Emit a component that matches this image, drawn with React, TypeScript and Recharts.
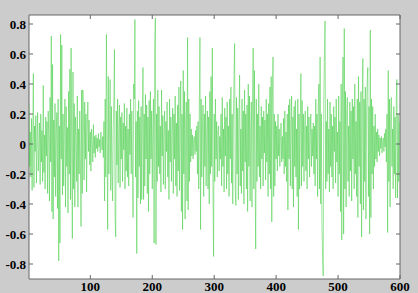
import React from 'react';
import { LineChart, Line, XAxis, YAxis, CartesianGrid, ReferenceArea } from 'recharts';

// signal samples (x = 1..600)
const signal: number[] = [
  0.27, -0.15, 0.08, -0.22, 0.17, -0.31, 0.05, 0.47, -0.29, 0.12,
  -0.05, 0.19, -0.26, 0.03, 0.21, -0.18, -0.02, 0.14, -0.27, 0.2,
  -0.12, 0.09, -0.25, 0.39, -0.19, 0.06, -0.3, 0.18, -0.08, 0.15,
  -0.33, 0.22, 0.04, -0.38, 0.31, -0.12, 0.72, -0.45, 0.53, -0.5,
  0.16, -0.22, 0.27, -0.35, 0.08, 0.21, -0.43, 0.3, -0.78, 0.12,
  -0.66, 0.73, -0.1, 0.66, -0.34, 0.2, -0.28, 0.09, 0.3, -0.42,
  0.25, -0.15, 0.11, -0.46, 0.35, -0.2, 0.5, -0.37, 0.64, -0.1,
  -0.63, 0.48, -0.3, 0.27, -0.42, 0.18, 0.05, -0.25, 0.32, -0.42,
  0.1, -0.2, 0.22, -0.12, -0.55, 0.36, -0.33, 0.36, 0.15, -0.24,
  0.28, -0.1, 0.2, -0.32, 0.12, 0.28, -0.05, 0.16, -0.14, 0.08,
  -0.18, 0.1, 0.02, -0.12, 0.13, -0.06, 0.05, -0.09, 0.06, -0.03,
  0.04, -0.05, 0.07, -0.02, 0.03, -0.06, 0.08, 0.01, -0.04, 0.05,
  -0.09, 0.15, -0.38, 0.3, -0.22, 0.73, 0.1, -0.57, 0.45, -0.2,
  0.12, 0.43, -0.31, 0.25, -0.15, -0.38, 0.1, 0.3, 0.63, -0.49,
  -0.62, 0.22, -0.14, 0.3, -0.26, 0.08, 0.26, -0.29, 0.18, -0.1,
  0.21, -0.25, 0.14, -0.04, 0.27, -0.3, 0.12, -0.18, 0.24, -0.22,
  0.1, -0.28, 0.2, -0.07, 0.3, -0.2, 0.22, -0.15, -0.49, 0.4,
  0.3, 0.83, -0.22, 0.15, -0.73, 0.22, -0.36, 0.29, -0.15, 0.18,
  -0.4, 0.25, -0.37, 0.12, 0.51, -0.37, 0.2, -0.28, 0.33, -0.1,
  0.26, -0.33, 0.18, -0.45, 0.29, -0.2, 0.35, -0.1, 0.22, -0.3,
  0.1, 0.3, -0.66, 0.64, 0.84, -0.67, 0.2, -0.25, 0.36, -0.15,
  0.25, -0.2, 0.12, -0.32, 0.36, -0.08, 0.19, -0.27, 0.1, 0.22,
  -0.3, 0.15, -0.05, 0.28, -0.22, 0.09, -0.37, 0.3, -0.12, 0.18,
  -0.25, 0.06, 0.24, -0.33, 0.2, -0.1, 0.32, -0.28, 0.14, -0.35,
  0.26, -0.18, 0.38, -0.31, 0.1, 0.42, -0.45, 0.2, -0.57, 0.49,
  -0.2, 0.35, -0.5, 0.15, 0.28, -0.38, 0.71, -0.44, 0.3, -0.25,
  0.2, -0.12, 0.1, -0.08, 0.06, -0.1, 0.04, 0.05, -0.07, 0.09,
  -0.05, 0.12, -0.2, 0.15, -0.3, 0.25, 0.71, -0.57, 0.3, -0.22,
  0.1, 0.26, -0.35, 0.2, -0.15, 0.32, -0.28, 0.08, 0.22, -0.3,
  0.18, -0.4, 0.35, -0.2, 0.45, -0.15, 0.64, -0.3, -0.75, 0.2,
  -0.25, 0.3, -0.1, 0.15, -0.22, 0.08, 0.12, -0.18, 0.05, -0.1,
  0.2, -0.28, 0.31, -0.15, 0.1, -0.32, 0.24, -0.08, 0.18, -0.3,
  0.28, -0.2, 0.12, -0.35, 0.3, -0.1, 0.38, -0.26, 0.2, -0.4,
  0.15, 0.45, 0.67, -0.3, -0.41, 0.31, -0.2, 0.24, -0.37, 0.15,
  0.46, -0.28, 0.1, -0.33, 0.3, -0.18, 0.22, -0.4, 0.36, -0.12,
  0.2, -0.3, 0.26, -0.45, 0.4, -0.15, 0.32, -0.38, 0.1, 0.28,
  -0.42, 0.35, 0.64, -0.3, 0.49, -0.2, -0.7, 0.3, -0.25, 0.2,
  -0.15, 0.4, -0.22, 0.12, -0.3, 0.25, -0.1, 0.18, -0.28, 0.22,
  -0.06, 0.16, -0.24, 0.3, -0.12, 0.2, -0.35, 0.27, -0.2, 0.38,
  -0.3, 0.45, -0.52, 0.3, 0.58, -0.35, 0.2, -0.28, 0.15, -0.1,
  0.12, -0.18, 0.2, -0.08, 0.1, -0.15, 0.06, 0.14, -0.12, 0.05,
  -0.1, 0.17, -0.2, 0.22, -0.15, 0.08, -0.25, 0.2, -0.44, 0.26,
  -0.1, 0.3, -0.28, 0.12, 0.32, -0.3, 0.18, -0.42, 0.25, -0.15,
  0.29, -0.22, 0.1, -0.35, 0.3, -0.57, 0.2, -0.3, 0.15, 0.47,
  -0.28, 0.29, -0.15, 0.2, -0.25, 0.1, 0.22, -0.18, 0.12, -0.3,
  0.25, -0.1, 0.18, -0.22, 0.05, 0.2, -0.15, 0.1, -0.08, 0.14,
  -0.2, 0.12, -0.28, 0.3, -0.1, 0.2, -0.35, 0.25, 0.4, -0.3,
  0.58, -0.4, 0.2, -0.55, -0.75, -0.88, 0.3, 0.6, 0.82, -0.3,
  0.15, -0.25, 0.3, -0.2, 0.1, -0.32, 0.28, -0.15, 0.2, -0.22,
  0.12, -0.3, 0.25, -0.05, 0.18, -0.26, 0.3, -0.12, 0.08, -0.35,
  0.32, -0.2, 0.15, -0.45, 0.4, -0.64, 0.3, 0.58, -0.6, 0.77,
  -0.3, 0.35, -0.42, 0.2, 0.31, -0.25, 0.12, -0.35, 0.28, -0.18,
  0.22, -0.38, 0.3, -0.1, 0.25, -0.3, 0.4, -0.2, 0.15, -0.35,
  0.3, -0.49, 0.45, -0.15, 0.28, -0.4, 0.35, -0.62, 0.2, 0.57,
  -0.44, 0.3, -0.25, 0.38, -0.5, 0.2, 0.42, 0.51, -0.35, 0.25,
  -0.6, 0.76, -0.49, 0.3, -0.2, 0.25, -0.3, 0.12, -0.15, 0.2,
  -0.1, 0.08, -0.12, 0.1, -0.05, 0.06, -0.08, 0.04, -0.03, 0.05,
  -0.06, 0.02, 0.04, -0.05, 0.07, -0.02, 0.1, -0.12, 0.2, -0.59,
  0.49, -0.25, 0.3, -0.42, 0.2, 0.31, -0.15, 0.1, -0.3, 0.25,
  -0.2, 0.18, -0.36, 0.3, 0.43, -0.36, 0.2, -0.25, 0.12, 0.15,
];

const xTicks = [100, 200, 300, 400, 500, 600];
const yTicks = [-0.8, -0.6, -0.4, -0.2, 0, 0.2, 0.4, 0.6, 0.8];

const data = signal.map((v, i) => ({ n: i + 1, v }));

const W = 418;
const H = 293;
const LEFT = 29;
const RIGHT = 400;
const TOP = 15;
const BOTTOM = 279;
const TICK = 4;
const FRAME = '#666';

const labelStyle = {
  fontFamily: '"Liberation Serif", serif',
  fontWeight: 700,
  fontSize: 13,
  fill: '#000',
};

const XTick = (props: any) => {
  const { x, payload } = props;
  return (
    <g>
      <line x1={x} x2={x} y1={BOTTOM} y2={BOTTOM - TICK} stroke={FRAME} />
      <line x1={x} x2={x} y1={TOP} y2={TOP + TICK} stroke={FRAME} />
      <text x={x} y={BOTTOM + 12} textAnchor="middle" style={labelStyle}>
        {payload.value}
      </text>
    </g>
  );
};

const YTick = (props: any) => {
  const { y, payload } = props;
  const label = String(Math.round(payload.value * 10) / 10);
  return (
    <g>
      <line x1={LEFT} x2={LEFT + TICK} y1={y} y2={y} stroke={FRAME} />
      <line x1={RIGHT} x2={RIGHT - TICK} y1={y} y2={y} stroke={FRAME} />
      <text x={LEFT - 3} y={y + 4.5} textAnchor="end" style={labelStyle}>
        {label}
      </text>
    </g>
  );
};

export default function App() {
  return (
    <div style={{ position: 'fixed', left: 0, top: 0, width: W, height: H, background: '#cccccc' }}>
      <LineChart
        width={W}
        height={H}
        data={data}
        margin={{ top: TOP, right: W - RIGHT, bottom: 0, left: 0 }}
      >
        <CartesianGrid fill="#ffffff" horizontal={false} vertical={false} />
        <XAxis
          dataKey="n"
          type="number"
          domain={[1, 600]}
          ticks={xTicks}
          height={H - BOTTOM}
          axisLine={false}
          tickLine={false}
          tick={<XTick />}
          interval={0}
          allowDataOverflow
        />
        <YAxis
          type="number"
          domain={[-0.9, 0.86]}
          ticks={yTicks}
          width={LEFT}
          axisLine={false}
          tickLine={false}
          tick={<YTick />}
          interval={0}
          allowDataOverflow
        />
        <ReferenceArea x1={1} x2={600} y1={-0.9} y2={0.86} fill="none" stroke={FRAME} strokeWidth={1} />
        <Line
          type="linear"
          dataKey="v"
          stroke="#40cc40"
          strokeWidth={0.6}
          strokeOpacity={0.85}
          dot={false}
          isAnimationActive={false}
        />
      </LineChart>
    </div>
  );
}
